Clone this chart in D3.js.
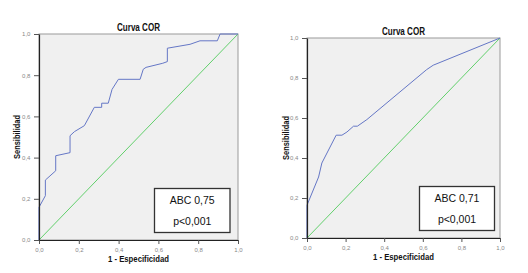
<!DOCTYPE html>
<html>
<head>
<meta charset="utf-8">
<script src="https://cdn.jsdelivr.net/npm/d3@7"></script>
<style>
  html, body { margin: 0; padding: 0; background: #fff; }
  svg { display: block; }
  text { font-family: "Liberation Sans", Arial, sans-serif; }
</style>
</head>
<body>
<svg id="chart" width="528" height="273"></svg>
<script>
// ---- Data ----
const tickValues = [0, 0.2, 0.4, 0.6, 0.8, 1.0];
const chartTitle = "Curva COR";
const xAxisTitle = "1 - Especificidad";
const yAxisTitle = "Sensibilidad";

const leftFPR = [0, 0, 0.032, 0.032, 0.084, 0.084, 0.156, 0.156, 0.178, 0.228, 0.278, 0.315, 0.315, 0.348, 0.367, 0.399, 0.508, 0.524, 0.538, 0.622, 0.645, 0.645, 0.759, 0.809, 0.896, 0.910, 1.0];
const leftTPR = [0, 0.159, 0.215, 0.291, 0.336, 0.409, 0.424, 0.506, 0.526, 0.555, 0.644, 0.644, 0.664, 0.664, 0.731, 0.780, 0.780, 0.829, 0.838, 0.858, 0.866, 0.931, 0.950, 0.967, 0.967, 1.0, 1.0];

const rightFPR = [0, 0, 0.060, 0.077, 0.151, 0.181, 0.207, 0.241, 0.261, 0.310, 0.620, 0.654, 1.0];
const rightTPR = [0, 0.164, 0.305, 0.375, 0.514, 0.514, 0.530, 0.559, 0.559, 0.592, 0.842, 0.864, 1.0];

const leftLegend = ["ABC 0,75", "p<0,001"];
const rightLegend = ["ABC 0,71", "p<0,001"];

// ---- Drawing ----
const svg = d3.select("#chart");
const fmt = d => d3.format(".1f")(d).replace(".", ",");

function drawPanel(cfg) {
  const g = svg.append("g");
  const x = d3.scaleLinear().domain([0, 1]).range([cfg.x0, cfg.x1]);
  const y = d3.scaleLinear().domain([0, 1]).range([cfg.yb, cfg.yt]);

  g.append("rect")
    .attr("x", cfg.x0).attr("y", cfg.yt)
    .attr("width", cfg.x1 - cfg.x0).attr("height", cfg.yb - cfg.yt)
    .attr("fill", "#f0f0f0").attr("stroke", "#9a9a9a").attr("stroke-width", 1);

  g.append("line")
    .attr("x1", x(0)).attr("y1", y(0)).attr("x2", x(1)).attr("y2", y(1))
    .attr("stroke", "#62d06c").attr("stroke-width", 1);

  const pts = cfg.fpr.map((f, i) => [f, cfg.tpr[i]]);
  g.append("path")
    .datum(pts)
    .attr("d", d3.line().x(d => x(d[0])).y(d => y(d[1])))
    .attr("fill", "none").attr("stroke", "#6577c6").attr("stroke-width", 1);

  const xAxis = d3.axisBottom(x).tickValues(tickValues).tickFormat(fmt).tickSize(4).tickSizeOuter(0);
  const yAxis = d3.axisLeft(y).tickValues(tickValues).tickFormat(fmt).tickSize(5).tickSizeOuter(0);
  const gx = g.append("g").attr("transform", `translate(0,${cfg.yb})`).call(xAxis);
  const gy = g.append("g").attr("transform", `translate(${cfg.x0},0)`).call(yAxis);
  [gx, gy].forEach(a => {
    a.select(".domain").attr("stroke", "#222").attr("stroke-width", 1.2);
    a.selectAll(".tick line").attr("stroke", "#555");
    a.selectAll(".tick text").attr("fill", "#888").attr("font-size", "6px")
      .attr("font-family", "'DejaVu Sans', sans-serif");
  });
  gx.selectAll(".tick text").attr("dy", "0.9em");
  gy.selectAll(".tick text").attr("dx", "-0.1em");

  g.append("text")
    .attr("x", (cfg.x0 + cfg.x1) / 2).attr("y", cfg.titleY)
    .attr("text-anchor", "middle").attr("font-weight", "bold").attr("font-size", "10px")
    .attr("fill", "#111")
    .attr("textLength", 43).attr("lengthAdjust", "spacingAndGlyphs")
    .text(chartTitle);

  g.append("text")
    .attr("x", (cfg.x0 + cfg.x1) / 2).attr("y", cfg.xLabelY)
    .attr("text-anchor", "middle").attr("font-weight", "bold").attr("font-size", "8.5px")
    .attr("fill", "#111")
    .attr("textLength", 61).attr("lengthAdjust", "spacingAndGlyphs")
    .text(xAxisTitle);

  g.append("text")
    .attr("transform", `translate(${cfg.yLabelX},${(cfg.yt + cfg.yb) / 2}) rotate(-90)`)
    .attr("text-anchor", "middle").attr("font-weight", "bold").attr("font-size", "8.5px")
    .attr("fill", "#111")
    .attr("textLength", 44).attr("lengthAdjust", "spacingAndGlyphs")
    .text(yAxisTitle);

  const b = cfg.box;
  g.append("rect")
    .attr("x", b.x).attr("y", b.y).attr("width", b.w).attr("height", b.h)
    .attr("fill", "#fff").attr("stroke", "#333").attr("stroke-width", 1.3);
  cfg.legend.forEach((t, i) => {
    g.append("text")
      .attr("x", b.x + b.w / 2).attr("y", b.y + b.h * (i === 0 ? 0.27 : 0.74))
      .attr("dy", "0.35em")
      .attr("text-anchor", "middle").attr("font-size", "10.5px").attr("fill", "#111")
      .text(t);
  });
}

drawPanel({
  x0: 39, x1: 238, yt: 34, yb: 240,
  fpr: leftFPR, tpr: leftTPR, legend: leftLegend,
  titleY: 30.5, xLabelY: 262, yLabelX: 20,
  box: { x: 154.5, y: 188.5, w: 75.5, h: 44 }
});

drawPanel({
  x0: 307, x1: 500, yt: 38, yb: 238,
  fpr: rightFPR, tpr: rightTPR, legend: rightLegend,
  titleY: 34.5, xLabelY: 259.5, yLabelX: 289,
  box: { x: 419.5, y: 186.5, w: 75, h: 44 }
});
</script>
</body>
</html>
